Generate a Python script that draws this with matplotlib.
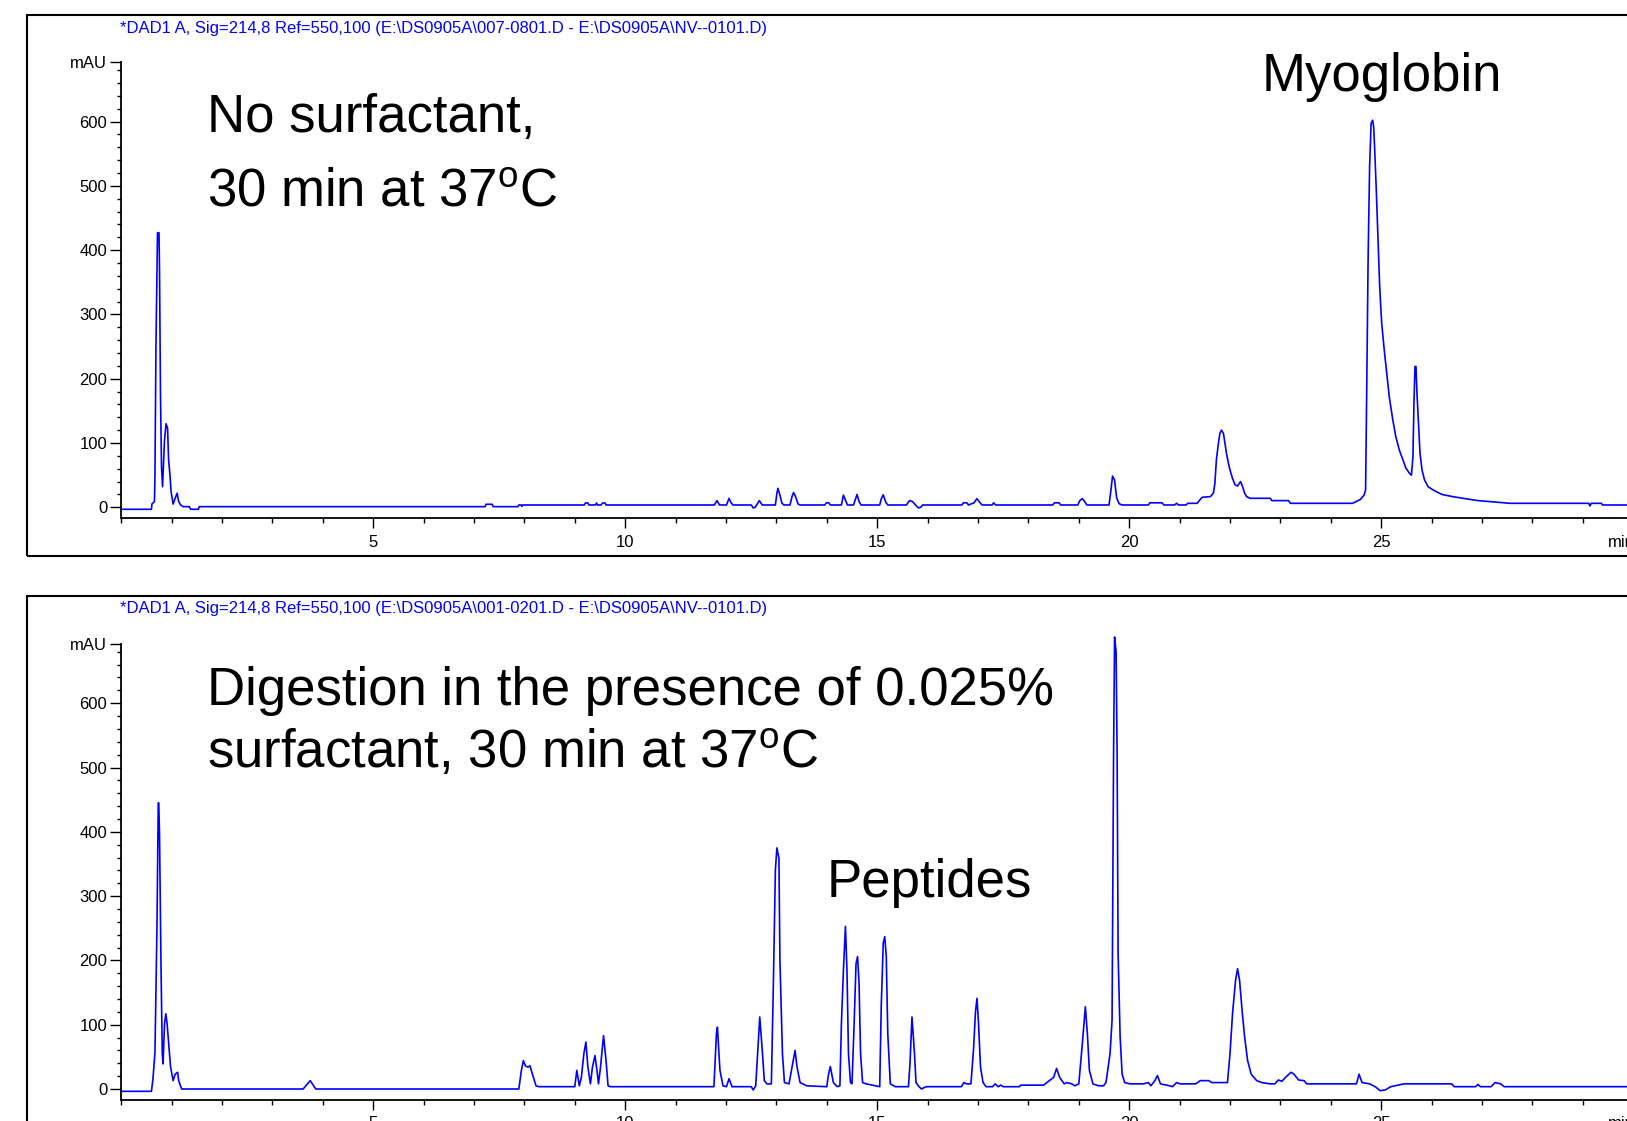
import numpy as np
import matplotlib
matplotlib.use("Agg")
from matplotlib import pyplot as plt
from matplotlib.patches import Rectangle
from matplotlib.ticker import FixedLocator, MultipleLocator

plt.rcParams['font.family'] = 'Liberation Sans'
plt.rcParams['mathtext.fontset'] = 'custom'
plt.rcParams['mathtext.rm'] = 'Liberation Sans'
plt.rcParams['mathtext.it'] = 'Liberation Sans:italic'

#-----------------------Data-----------------------#

# (retention time [min], signal [mAU]) - no surfactant
top_trace = [
    (0.00, -3.1), (0.60, -3.1), (0.61, 5.2), (0.66, 8.8), (0.67, 52), (0.69, 252), (0.72, 427),
    (0.75, 427), (0.76, 371), (0.78, 172), (0.80, 63), (0.82, 32), (0.86, 105), (0.89, 130),
    (0.92, 123), (0.94, 74), (0.97, 48), (0.99, 24), (1.03, 5), (1.07, 14), (1.11, 22), (1.14, 9),
    (1.18, 3.6), (1.23, 1.0), (1.35, 1.0), (1.38, -3.1), (1.53, -3.1), (1.55, 1.0),
    (7.22, 1.0), (7.24, 4.7), (7.36, 4.7), (7.38, 1.0), (7.87, 1.0), (7.89, 3.6), (7.94, 3.6),
    (7.95, 1.5), (7.97, 3.6),
    (9.19, 3.6), (9.21, 6.7), (9.26, 6.7), (9.28, 3.6), (9.41, 3.6), (9.43, 6.7), (9.45, 3.6),
    (9.52, 3.6), (9.55, 6.7), (9.60, 6.7), (9.62, 3.6),
    (11.77, 3.6), (11.82, 10.4), (11.87, 3.6), (12.01, 3.6), (12.06, 14.0), (12.10, 7.0),
    (12.14, 3.6), (12.50, 3.6), (12.54, -1.0), (12.58, 0.0), (12.66, 10.4), (12.72, 3.6),
    (12.98, 3.6), (13.01, 21.8), (13.03, 29.5), (13.07, 19), (13.11, 6.2), (13.15, 3.6),
    (13.27, 3.6), (13.31, 16.6), (13.34, 23), (13.38, 16.6), (13.43, 5), (13.47, 3.6),
    (13.96, 3.6), (13.99, 7.0), (14.04, 7.0), (14.07, 3.6),
    (14.29, 3.6), (14.33, 19), (14.37, 11), (14.41, 3.6), (14.53, 3.6), (14.60, 20), (14.64, 9),
    (14.68, 3.6),
    (15.05, 3.6), (15.08, 13), (15.12, 19.5), (15.17, 8), (15.21, 3.6), (15.58, 3.6),
    (15.64, 10.4), (15.70, 9), (15.76, 3.6), (15.82, -1.0), (15.87, 0.5), (15.90, 3.6),
    (16.68, 3.6), (16.71, 7.0), (16.78, 7.0), (16.81, 3.6), (16.87, 5.5), (16.92, 7.0),
    (16.98, 13.5), (17.03, 8), (17.08, 3.6),
    (17.28, 3.6), (17.31, 7), (17.35, 3.6), (18.48, 3.6), (18.52, 7), (18.61, 7), (18.64, 3.6),
    (18.98, 3.6), (19.02, 10.4), (19.07, 13.5), (19.12, 8.5), (19.16, 3.6),
    (19.60, 3.6), (19.63, 22), (19.67, 48.5), (19.71, 42.5), (19.75, 15), (19.80, 5.5),
    (19.86, 3.6),
    (20.38, 3.6), (20.41, 7), (20.65, 7), (20.69, 3.6), (20.90, 3.6), (20.94, 6.2), (20.98, 3.6),
    (21.13, 3.6), (21.16, 6.2), (21.35, 6.2), (21.40, 11.4), (21.45, 15.6), (21.61, 16.6),
    (21.67, 22),
    (21.70, 37), (21.73, 74), (21.77, 99.5), (21.80, 115), (21.83, 120), (21.87, 115),
    (21.90, 99.5), (21.93, 84), (21.97, 68), (22.00, 58), (22.05, 45), (22.10, 35), (22.15, 33),
    (22.19, 38), (22.21, 40), (22.25, 32), (22.29, 22), (22.33, 16.6), (22.40, 14), (22.80, 14),
    (22.83, 10.4), (23.16, 10.4), (23.20, 6.2), (24.43, 6.2), (24.50, 8.8), (24.59, 12.4),
    (24.66, 19), (24.69, 27),
    (24.71, 162), (24.74, 385), (24.77, 530), (24.80, 597), (24.83, 602), (24.85, 592),
    (24.87, 558), (24.90, 499), (24.94, 410), (24.97, 343), (25.01, 286), (25.06, 245),
    (25.11, 208), (25.16, 172), (25.23, 136), (25.29, 110), (25.36, 89), (25.43, 74),
    (25.49, 61), (25.56, 53), (25.60, 50), (25.63, 79), (25.65, 162), (25.67, 219),
    (25.69, 219), (25.71, 177), (25.74, 131), (25.77, 84), (25.81, 58), (25.86, 42.5),
    (25.93, 32), (26.03, 27), (26.13, 22.8), (26.22, 19.7), (26.42, 16.6), (26.62, 14),
    (26.92, 10.4), (27.56, 6.2), (29.12, 6.2), (29.14, 2), (29.17, 6.2), (29.37, 6.2),
    (29.39, 3.6), (30.0, 3.6),
]

# (retention time [min], signal [mAU]) - 0.025% surfactant
bottom_trace = [
    (0.00, -3.6), (0.60, -3.6), (0.63, 15.6), (0.67, 57), (0.71, 255), (0.735, 445),
    (0.745, 445), (0.76, 398), (0.79, 190), (0.815, 55), (0.83, 39), (0.86, 102), (0.886, 117),
    (0.91, 102), (0.94, 73), (0.98, 34), (1.03, 13), (1.07, 23), (1.12, 26), (1.14, 13),
    (1.20, 0),
    (3.61, 0), (3.75, 13), (3.86, 0),
    (7.89, 0), (7.94, 29), (7.98, 44), (8.02, 36), (8.07, 34), (8.11, 36), (8.16, 23),
    (8.23, 5), (8.29, 3.6),
    (9.00, 3.6), (9.04, 29), (9.09, 5), (9.13, 18), (9.18, 55), (9.22, 73), (9.26, 34),
    (9.31, 8), (9.35, 34), (9.40, 52), (9.44, 29), (9.47, 8), (9.51, 34), (9.57, 83),
    (9.62, 44), (9.66, 5), (9.71, 3.6),
    (11.76, 3.6), (11.81, 86), (11.83, 96), (11.88, 29), (11.94, 5), (12.01, 3.6), (12.06, 16),
    (12.12, 3.6), (12.50, 3.6), (12.54, -1.5), (12.59, 5), (12.63, 60), (12.67, 112),
    (12.72, 60), (12.76, 13), (12.81, 8), (12.90, 8), (12.94, 164), (12.98, 341), (13.01, 375),
    (13.05, 359), (13.07, 200), (13.12, 55), (13.16, 10), (13.25, 8), (13.31, 34), (13.37, 60),
    (13.41, 34), (13.47, 10), (13.60, 5),
    (14.00, 3.6), (14.03, 21), (14.07, 35), (14.13, 10), (14.21, 3.6), (14.26, 5),
    (14.29, 102), (14.33, 185), (14.37, 253), (14.40, 185), (14.43, 55), (14.47, 10),
    (14.50, 8),
    (14.54, 96), (14.58, 195), (14.61, 206), (14.64, 164), (14.67, 55), (14.71, 10),
    (14.78, 8), (15.05, 3.6),
    (15.08, 128), (15.12, 227), (15.15, 237), (15.18, 206), (15.21, 86), (15.26, 8),
    (15.36, 3.6),
    (15.62, 3.6), (15.65, 39), (15.69, 112), (15.74, 55), (15.77, 10), (15.83, 3.6),
    (15.88, 0), (15.94, 2.6), (15.99, 3.6),
    (16.67, 3.6), (16.72, 10), (16.77, 8), (16.86, 8), (16.91, 60), (16.95, 120), (16.98, 141),
    (17.01, 102), (17.05, 34), (17.10, 10), (17.16, 3.6),
    (17.29, 3.6), (17.34, 8), (17.40, 3.6), (17.45, 6), (17.50, 3.6), (17.82, 3.6),
    (17.85, 6), (18.30, 6),
    (18.50, 18), (18.56, 32), (18.62, 18), (18.71, 8), (18.76, 10), (18.86, 8), (18.92, 5),
    (19.00, 8),
    (19.07, 70), (19.13, 128), (19.17, 86), (19.21, 29), (19.28, 8), (19.39, 5), (19.49, 5),
    (19.54, 10), (19.62, 55), (19.66, 107), (19.69, 523), (19.71, 703), (19.74, 680),
    (19.76, 523), (19.78, 211), (19.82, 81), (19.86, 23), (19.91, 10), (20.01, 8), (20.28, 8),
    (20.38, 10), (20.43, 5), (20.51, 13), (20.56, 21), (20.62, 8), (20.80, 5), (20.86, 3.6),
    (20.94, 10), (21.01, 8), (21.32, 8), (21.41, 13), (21.58, 13), (21.64, 10), (21.95, 10),
    (22.00, 55), (22.05, 117), (22.11, 169), (22.15, 187), (22.19, 169), (22.24, 122),
    (22.29, 81), (22.35, 44), (22.42, 23), (22.53, 13), (22.63, 10), (22.79, 8), (22.89, 8),
    (22.96, 14), (23.03, 12), (23.10, 18), (23.21, 26), (23.27, 23), (23.36, 14), (23.47, 13),
    (23.52, 8), (24.51, 8), (24.56, 23), (24.62, 10), (24.77, 8), (24.88, 3.6), (24.98, -2.6),
    (25.08, -1.5), (25.19, 3.6), (25.45, 8), (26.40, 8), (26.45, 3.6), (26.87, 3.6),
    (26.92, 7), (26.97, 3.6), (27.18, 3.6), (27.26, 10), (27.37, 8), (27.44, 3.6), (30.0, 3.6),
]

headers = [
    r"*DAD1 A, Sig=214,8 Ref=550,100 (E:\DS0905A\007-0801.D - E:\DS0905A\NV--0101.D)",
    r"*DAD1 A, Sig=214,8 Ref=550,100 (E:\DS0905A\001-0201.D - E:\DS0905A\NV--0101.D)",
]

y_major = [0, 100, 200, 300, 400, 500, 600]
x_major = [5, 10, 15, 20, 25]

#-----------------------Layout (pixels of the 1627x1121 canvas)-----------------------#

W, H = 1627, 1121
def fx(px):
    return px / W
def fy(py):
    return 1 - py / H

X_LO, X_HI = 0, 30
Y_LO, Y_HI = -17, 692
PX_PER_MIN = 50.4
PX_PER_MAU = 0.643
AX_LEFT = 121.2
X_TICK_LEN, X_PAD = 7.4, 4.5

panels = [
    dict(trace=top_trace, header=headers[0], zero=507.3, frame=(14.5, 556), header_y=28),
    dict(trace=bottom_trace, header=headers[1], zero=1089.0, frame=(595.6, 1137), header_y=609),
]

fig = plt.figure(figsize=(16.27, 11.21), dpi=100)

for p in panels:
    bottom_px = p['zero'] - Y_LO * PX_PER_MAU
    height_px = (Y_HI - Y_LO) * PX_PER_MAU
    width_px = (X_HI - X_LO) * PX_PER_MIN
    ax = fig.add_axes([fx(AX_LEFT), fy(bottom_px), width_px / W, height_px / H])
    ax.patch.set_visible(False)

    data = np.array(p['trace'])
    ax.plot(data[:, 0], data[:, 1], color='#0000ff', lw=1.2, clip_on=False)

    ax.set_xlim(X_LO, X_HI)
    ax.set_ylim(Y_LO, Y_HI)
    for side in ['top', 'right']:
        ax.spines[side].set_visible(False)
    for side in ['left', 'bottom']:
        ax.spines[side].set_linewidth(1.3)

    ax.yaxis.set_major_locator(FixedLocator(y_major + [Y_HI]))
    ax.set_yticklabels([str(v) for v in y_major] + ['mAU'])
    ax.yaxis.set_minor_locator(MultipleLocator(20))
    ax.xaxis.set_major_locator(FixedLocator(x_major))
    ax.set_xticklabels([str(v) for v in x_major])
    ax.xaxis.set_minor_locator(MultipleLocator(1))

    ax.tick_params(axis='y', which='major', length=8, width=1, pad=2, labelsize=12)
    ax.tick_params(axis='y', which='minor', length=3, width=1)
    ax.tick_params(axis='x', which='major', length=X_TICK_LEN, width=1, pad=X_PAD, labelsize=12)
    ax.tick_params(axis='x', which='minor', length=3.6, width=1)

    # "min" sits where the 30 label would be
    fig.text(fx(1621), fy(bottom_px + (X_TICK_LEN + X_PAD) * 100 / 72), 'min',
             ha='center', va='top', fontsize=12)

    fig.text(fx(444), fy(p['header_y']), p['header'], ha='center', va='center',
             fontsize=12, color='#0000ff')

    top, bot = p['frame']
    fig.add_artist(Rectangle((fx(27), fy(bot)), fx(1645) - fx(27), (bot - top) / H,
                             transform=fig.transFigure, fill=False, lw=1.5, ec='black'))

# annotations
big = 38
fig.text(fx(207), fy(131.7), 'No surfactant,', fontsize=big, va='baseline')
fig.text(fx(207), fy(206.4), r'30 min at 37$^{\mathrm{o}}$C', fontsize=big, va='baseline')
fig.text(fx(1262), fy(90.7), 'Myoglobin', fontsize=big, va='baseline')
fig.text(fx(207), fy(705), 'Digestion in the presence of 0.025%', fontsize=big, va='baseline')
fig.text(fx(207), fy(768.3), r'surfactant, 30 min at 37$^{\mathrm{o}}$C', fontsize=big,
         va='baseline')
fig.text(fx(827), fy(896.7), 'Peptides', fontsize=big, va='baseline')

fig.savefig('out.png', dpi=100)
